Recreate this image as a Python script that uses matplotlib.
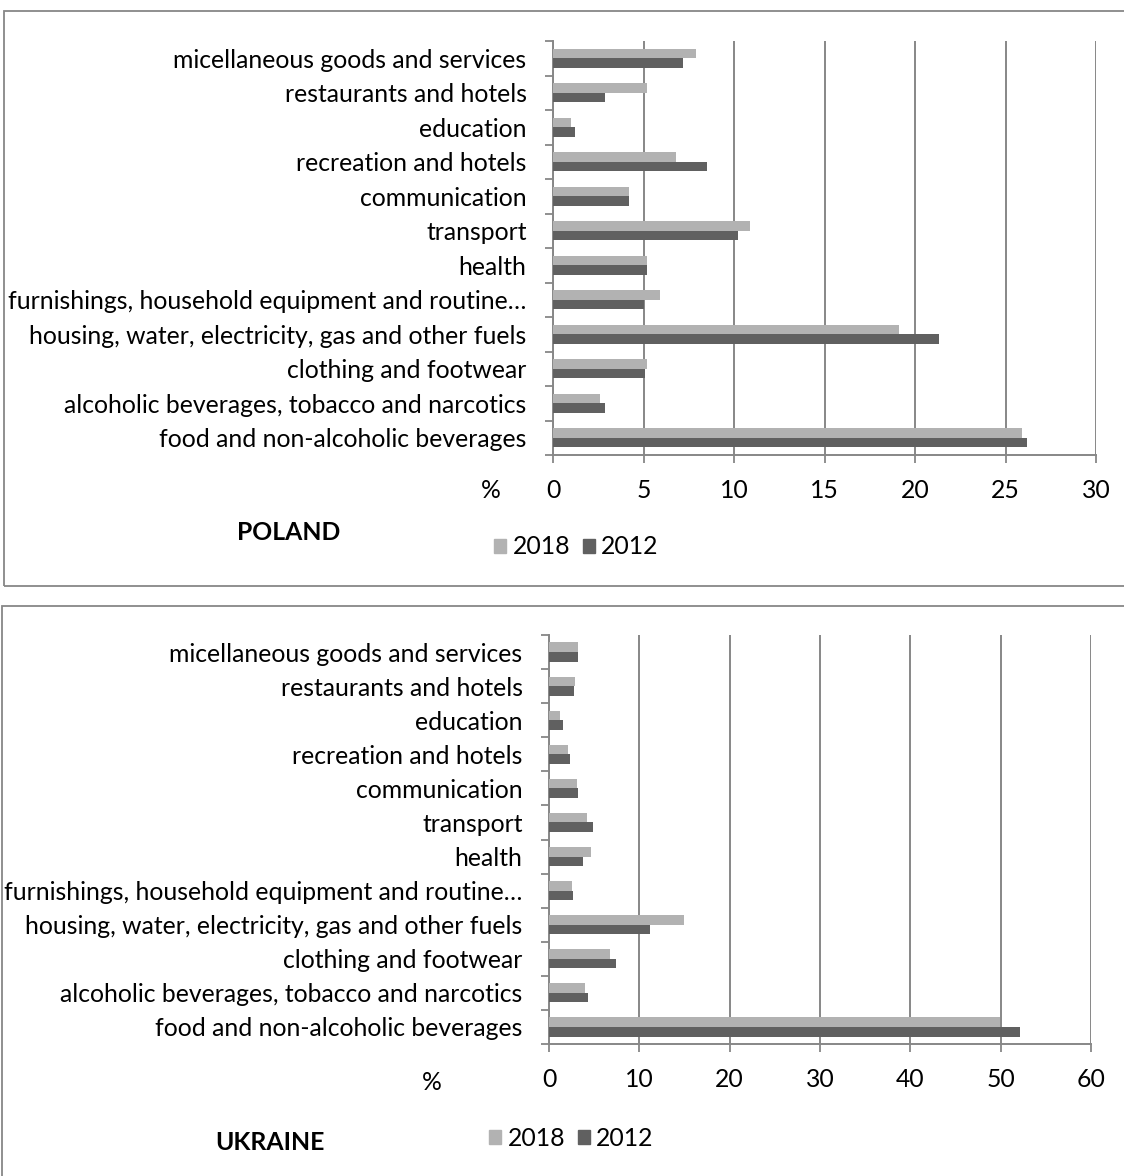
import matplotlib
matplotlib.use("Agg")
import matplotlib.pyplot as plt
from matplotlib.patches import Rectangle, Patch
import numpy as np

categories = [
    "food and non-alcoholic beverages",
    "alcoholic beverages, tobacco and narcotics",
    "clothing and footwear",
    "housing, water, electricity, gas and other fuels",
    "furnishings, household equipment and routine…",
    "health",
    "transport",
    "communication",
    "recreation and hotels",
    "education",
    "restaurants and hotels",
    "micellaneous goods and services",
]

poland_2018 = [25.9, 2.6, 5.2, 19.1, 5.9, 5.2, 10.9, 4.2, 6.8, 1.0, 5.2, 7.9]
poland_2012 = [26.2, 2.9, 5.1, 21.3, 5.0, 5.2, 10.2, 4.2, 8.5, 1.2, 2.9, 7.2]

ukraine_2018 = [49.9, 4.0, 6.8, 14.9, 2.5, 4.7, 4.2, 3.1, 2.1, 1.2, 2.9, 3.2]
ukraine_2012 = [52.1, 4.3, 7.4, 11.2, 2.7, 3.8, 4.9, 3.2, 2.3, 1.6, 2.8, 3.2]

poland_ticks = [0, 5, 10, 15, 20, 25, 30]
ukraine_ticks = [0, 10, 20, 30, 40, 50, 60]

C_2018 = "#b2b2b2"
C_2012 = "#606060"
GRID = "#878787"
FONT = "Lato"
FS = 17.8

W, H = 1124, 1176
fig = plt.figure(figsize=(W / 100, H / 100), dpi=100)
plt.rcParams["font.family"] = [FONT, "DejaVu Sans"]


def fx(px):
    return px / W


def fy(py):
    return 1 - py / H


def panel_border(x0, y0, x1, y1):
    fig.patches.append(Rectangle((fx(x0), fy(y1)), fx(x1 - x0), (y1 - y0) / H,
                                 transform=fig.transFigure, fill=False,
                                 edgecolor=GRID, linewidth=1.3))


def draw_panel(rect_px, v18, v12, ticks):
    left, top, right, bottom = rect_px
    ax = fig.add_axes([fx(left), fy(bottom), fx(right - left), (bottom - top) / H])
    n = len(categories)
    y = np.arange(n)
    h = 0.28
    ax.barh(y + h / 2, v18, height=h, color=C_2018, zorder=3)
    ax.barh(y - h / 2, v12, height=h, color=C_2012, zorder=3)
    ax.set_ylim(-0.5, n - 0.5)
    ax.set_xlim(ticks[0], ticks[-1])
    ax.set_xticks(ticks)
    ax.set_xticklabels([str(t) for t in ticks], fontsize=FS)
    ax.set_yticks(y)
    ax.set_yticklabels(categories, fontsize=FS)
    ax.tick_params(axis="y", length=0, pad=19)
    ax.set_yticks(np.arange(n + 1) - 0.5, minor=True)
    ax.tick_params(axis="y", which="minor", length=6, width=1.3, color=GRID)
    ax.tick_params(axis="x", length=6, width=1.3, color=GRID, pad=11)
    ax.grid(axis="x", color=GRID, linewidth=1.4, zorder=1)
    for s in ("top", "right"):
        ax.spines[s].set_visible(False)
    for s in ("left", "bottom"):
        ax.spines[s].set_color(GRID)
        ax.spines[s].set_linewidth(1.4)
    ax.set_axisbelow(True)
    return ax


# Poland
panel_border(4, 11, 1140, 586)
draw_panel((553, 41, 1096, 455), poland_2018, poland_2012, poland_ticks)
fig.text(fx(491), fy(490), "%", fontsize=FS, ha="center", va="center")
fig.text(fx(289), fy(533), "POLAND", fontsize=FS, fontweight="bold", ha="center", va="center")

# Ukraine
panel_border(2, 606, 1140, 1200)
draw_panel((549, 635, 1091, 1044), ukraine_2018, ukraine_2012, ukraine_ticks)
fig.text(fx(432), fy(1083), "%", fontsize=FS, ha="center", va="center")
fig.text(fx(270), fy(1143), "UKRAINE", fontsize=FS, fontweight="bold", ha="center", va="center")

handles = [Patch(color=C_2018, label="2018"), Patch(color=C_2012, label="2012")]
for lx, ly in ((494, 547), (489, 1138)):
    fig.legend(handles=handles, loc="center left", bbox_to_anchor=(fx(lx), fy(ly)),
               ncol=2, frameon=False, fontsize=FS, handlelength=0.5, handleheight=0.5,
               handletextpad=0.25, columnspacing=0.5, borderpad=0, borderaxespad=0)

fig.savefig("out.png", dpi=100)
